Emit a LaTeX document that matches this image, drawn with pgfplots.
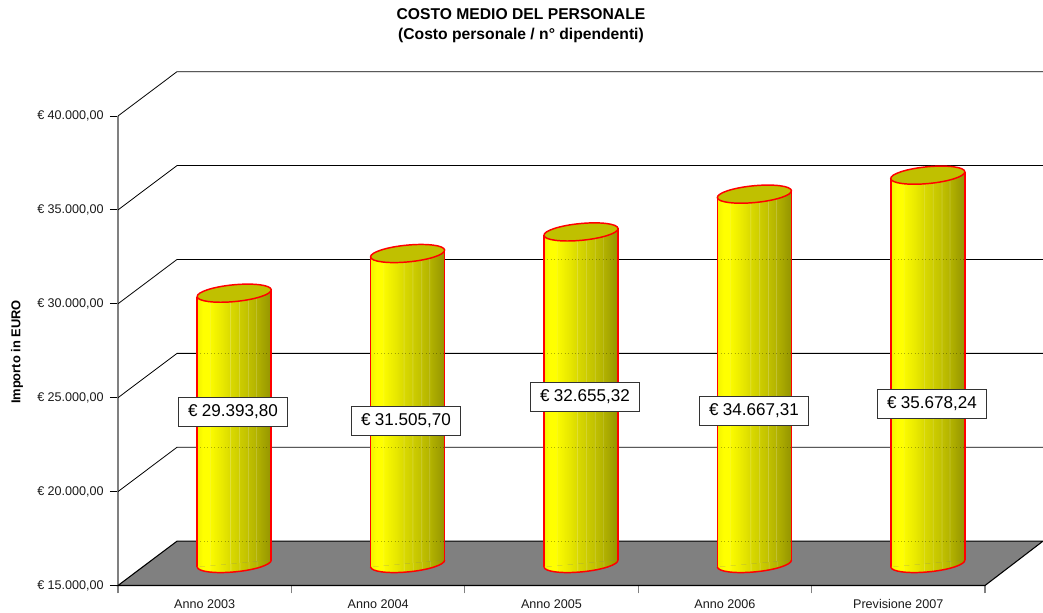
\documentclass[border=0pt]{standalone}
\usepackage{fontspec}
\setmainfont{Liberation Sans}
\usepackage{pgfplots}
\pgfplotsset{compat=1.18}
\usepackage{pgfplotstable}

\definecolor{topolive}{RGB}{192,192,0}
\definecolor{floorgray}{RGB}{128,128,128}
\definecolor{cylred}{RGB}{255,0,0}

\pgfdeclarehorizontalshading{cyl}{100bp}{%
  rgb(0bp)=(.95,.95,0);
  rgb(25bp)=(.95,.95,0);
  rgb(29bp)=(1,1,0);
  rgb(33.2bp)=(1,1,0);
  rgb(33.6bp)=(.97,.97,.15);
  rgb(34.2bp)=(.98,.98,0);
  rgb(42bp)=(.91,.91,0);
  rgb(46.8bp)=(.86,.86,0);
  rgb(47.2bp)=(.88,.88,.25);
  rgb(47.8bp)=(.85,.85,0);
  rgb(52.8bp)=(.81,.81,0);
  rgb(53.2bp)=(.84,.84,.25);
  rgb(53.8bp)=(.80,.80,0);
  rgb(58.8bp)=(.76,.76,0);
  rgb(59.2bp)=(.80,.80,.25);
  rgb(59.8bp)=(.75,.75,0);
  rgb(64.2bp)=(.71,.71,0);
  rgb(64.6bp)=(.76,.76,.22);
  rgb(65.2bp)=(.70,.70,0);
  rgb(75bp)=(.58,.58,0);
  rgb(100bp)=(.58,.58,0)}

% tilted ellipse: half axes 37.2 and 8.4 px, 5.4 degrees
\pgfdeclareplotmark{cylbase}{%
  \pgfsetstrokecolor{cylred}\pgfsetlinewidth{1.1pt}%
  \pgfpathmoveto{\pgfpoint{-27.78pt}{-2.63pt}}%
  \pgfpathcurveto{\pgfpoint{-27.454pt}{-6.093pt}}{\pgfpoint{-14.753pt}{-7.723pt}}{\pgfpoint{.59pt}{-6.27pt}}%
  \pgfpathcurveto{\pgfpoint{15.933pt}{-4.817pt}}{\pgfpoint{28.106pt}{-.833pt}}{\pgfpoint{27.78pt}{2.63pt}}%
  \pgfshadepath{cyl}{0}\pgfusepath{stroke}}
\pgfdeclareplotmark{cyltop}{%
  \pgfsetstrokecolor{cylred}\pgfsetfillcolor{topolive}\pgfsetlinewidth{1.1pt}%
  \pgfpathellipse{\pgfpointorigin}{\pgfpoint{27.78pt}{2.63pt}}{\pgfpoint{-.59pt}{6.27pt}}%
  \pgfusepath{fill,stroke}}

% category centre, cost
\pgfplotstableread{
x   cost
0.5 29393.80
1.5 31505.70
2.5 32655.32
3.5 34667.31
4.5 35678.24
}\costdata

\begin{document}
\begin{tikzpicture}
\path[use as bounding box] (-88.5pt,-20.625pt) rectangle (693.75pt,439.125pt);
\begin{axis}[
  scale only axis,
  width=650.25pt,
  height=352.125pt,
  xmin=0, xmax=5,
  ymin=15000, ymax=40000,
  clip=false,
  axis lines=left,
  axis line style={-},
  x axis line style={black,line width=.8pt},
  y axis line style={floorgray,line width=1.2pt},
  xtick={0,1,2,3,4,5},
  x tick label as interval,
  xticklabels={Anno 2003,Anno 2004,Anno 2005,Anno 2006,Previsione 2007},
  ytick={15000,20000,25000,30000,35000,40000},
  scaled y ticks=false,
  yticklabels={{€\kern.25em 15.000,00},{€\kern.25em 20.000,00},{€\kern.25em 25.000,00},{€\kern.25em 30.000,00},{€\kern.25em 35.000,00},{€\kern.25em 40.000,00}},
  tick align=outside,
  major tick length=6pt,
  x tick style={floorgray,line width=.8pt},
  y tick style={black,line width=.6pt},
  tick label style={font=\fontsize{9.45}{11}\selectfont,text=black!90},
  xticklabel style={text height=7pt,text depth=0pt,yshift=-.5pt},
  yticklabel style={xshift=-1.25pt},
  title={COSTO MEDIO DEL PERSONALE\\(Costo personale / n° dipendenti)},
  title style={at={(axis description cs:0.4648,1.176)},anchor=center,align=center,
    font=\fontsize{11.75}{15}\bfseries\selectfont},
  ylabel={Importo in EURO},
  every axis y label/.style={at={(axis description cs:-0.1165,0.497)},rotate=90,anchor=center,
    font=\fontsize{9.65}{11}\bfseries\selectfont},
  unbounded coords=jump,
]
% y axis line in gray over the ticks' base
\addplot[floorgray,line width=1.2pt] coordinates {(0,15000)(0,40000)};
% back wall lines
\addplot[black,line width=.6pt] coordinates {(0,20000)(0.3403,22360)(5.334,22360)};
\addplot[black,line width=.6pt] coordinates {(0,25000)(0.3403,27360)(5.334,27360)};
\addplot[black,line width=.6pt] coordinates {(0,30000)(0.3403,32360)(5.334,32360)};
\addplot[black,line width=.6pt] coordinates {(0,35000)(0.3403,37360)(5.334,37360)};
\addplot[black,line width=.6pt] coordinates {(0,40000)(0.3403,42360)(5.334,42360)};
% floor
\addplot[fill=floorgray,draw=black,line width=.8pt] coordinates {(0,15000)(0.3403,17360)(5.334,17360)(5,15000)} -- cycle;
% cylinder bases
\addplot[only marks,mark=cylbase,xshift=22.125pt,yshift=16.5pt] table[x=x,y expr=15000] {\costdata};
% cylinder bodies
\addplot[shading=cyl,draw=none,xshift=22.125pt,yshift=16.5pt] coordinates {(0.2866,14814)(0.2866,29207.8)(0.7134,29579.8)(0.7134,15186)} -- cycle;
\addplot[shading=cyl,draw=none,xshift=22.125pt,yshift=16.5pt] coordinates {(1.2866,14814)(1.2866,31319.7)(1.7134,31691.7)(1.7134,15186)} -- cycle;
\addplot[shading=cyl,draw=none,xshift=22.125pt,yshift=16.5pt] coordinates {(2.2866,14814)(2.2866,32469.3)(2.7134,32841.3)(2.7134,15186)} -- cycle;
\addplot[shading=cyl,draw=none,xshift=22.125pt,yshift=16.5pt] coordinates {(3.2866,14814)(3.2866,34481.3)(3.7134,34853.3)(3.7134,15186)} -- cycle;
\addplot[shading=cyl,draw=none,xshift=22.125pt,yshift=16.5pt] coordinates {(4.2866,14814)(4.2866,35492.2)(4.7134,35864.2)(4.7134,15186)} -- cycle;
% wall lines faintly through the cylinders
\addplot[black,draw opacity=.3,line width=.6pt,dotted] coordinates {(0.4556,17360)(0.8823,17360)(nan,nan)(1.4556,17360)(1.8823,17360)(nan,nan)(2.4556,17360)(2.8823,17360)(nan,nan)(3.4556,17360)(3.8823,17360)(nan,nan)(4.4556,17360)(4.8823,17360)};
\addplot[black,draw opacity=.3,line width=.6pt,dotted] coordinates {(0.4556,22360)(0.8823,22360)(nan,nan)(1.4556,22360)(1.8823,22360)(nan,nan)(2.4556,22360)(2.8823,22360)(nan,nan)(3.4556,22360)(3.8823,22360)(nan,nan)(4.4556,22360)(4.8823,22360)};
\addplot[black,draw opacity=.3,line width=.6pt,dotted] coordinates {(0.4556,27360)(0.8823,27360)(nan,nan)(1.4556,27360)(1.8823,27360)(nan,nan)(2.4556,27360)(2.8823,27360)(nan,nan)(3.4556,27360)(3.8823,27360)(nan,nan)(4.4556,27360)(4.8823,27360)};
\addplot[black,draw opacity=.3,line width=.6pt,dotted] coordinates {(2.4556,32360)(2.8823,32360)(nan,nan)(3.4556,32360)(3.8823,32360)(nan,nan)(4.4556,32360)(4.8823,32360)};
% red sides
\addplot[ycomb,cylred,line width=1.1pt,xshift=-5.625pt,yshift=13.875pt] table[x=x,y=cost] {\costdata};
\addplot[ycomb,cylred,line width=1.1pt,xshift=49.875pt,yshift=19.125pt] table[x=x,y=cost] {\costdata};
% lids
\addplot[only marks,mark=cyltop,xshift=22.125pt,yshift=16.5pt] table[x=x,y=cost] {\costdata};
% value boxes
\begin{scope}[every node/.style={draw=black!80,fill=white,line width=.6pt,minimum width=81.75pt,minimum height=21.75pt,inner sep=0pt,font=\fontsize{12.8}{14}\selectfont}]
\node at (axis cs:0.663,24265) {€\kern.25em 29.393,80};
\node at (axis cs:1.661,23760) {€\kern.25em 31.505,70};
\node at (axis cs:2.693,25037) {€\kern.25em 32.655,32};
\node at (axis cs:3.668,24292) {€\kern.25em 34.667,31};
\node at (axis cs:4.694,24665) {€\kern.25em 35.678,24};
\end{scope}
\end{axis}
\end{tikzpicture}
\end{document}
